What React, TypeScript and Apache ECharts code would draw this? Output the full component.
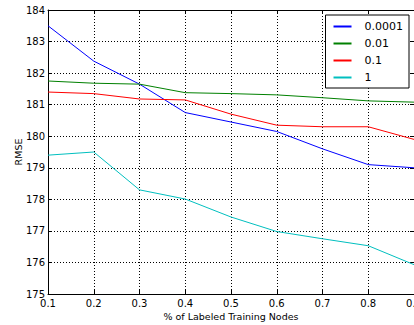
import React, { useEffect, useRef } from "react";
import * as echarts from "echarts";

const categories = ["0.1", "0.2", "0.3", "0.4", "0.5", "0.6", "0.7", "0.8", "0.9"];
const seriesNames = ["0.0001", "0.01", "0.1", "1"];
const s0001 = [183.5, 182.38, 181.65, 180.75, 180.45, 180.15, 179.6, 179.1, 179.0];
const s001 = [181.75, 181.68, 181.65, 181.38, 181.35, 181.31, 181.22, 181.12, 181.08];
const s01 = [181.4, 181.35, 181.18, 181.15, 180.7, 180.35, 180.3, 180.3, 179.9];
const s1 = [179.4, 179.5, 178.3, 178.01, 177.44, 176.98, 176.75, 176.53, 175.93];
const colors = ["#0000ff", "#008000", "#ff0000", "#00bfbf"];
const FONT = "DejaVu Sans";

export default function App() {
  const ref = useRef<HTMLDivElement>(null);
  useEffect(() => {
    if (!ref.current) return;
    const chart = echarts.init(ref.current, undefined, { renderer: "svg" });
    const values = [s0001, s001, s01, s1];
    const tickStyle = { show: true, inside: true, length: 4, lineStyle: { color: "#000", width: 1 } };
    const axisLine = { show: true, lineStyle: { color: "#000", width: 1 } };
    chart.setOption({
      animation: false,
      textStyle: { fontFamily: FONT },
      grid: { left: 48, right: 0, top: 10, bottom: 31, containLabel: false, outerBoundsMode: "none" },
      legend: {
        orient: "vertical",
        right: 5,
        top: 15,
        data: seriesNames,
        icon: "rect",
        itemWidth: 18,
        itemHeight: 2,
        itemGap: 4,
        padding: [5, 6, 4, 8],
        backgroundColor: "#fff",
        borderColor: "#000",
        borderWidth: 1,
        borderRadius: 0,
        textStyle: { fontFamily: FONT, fontSize: 11, color: "#000", lineHeight: 13, padding: [0, 0, 0, 8] },
      },
      xAxis: [
        {
          type: "category",
          data: categories,
          boundaryGap: false,
          position: "bottom",
          name: "% of Labeled Training Nodes",
          nameLocation: "middle",
          nameGap: 17,
          nameMoveOverlap: false,
          nameTextStyle: { fontFamily: FONT, fontSize: 9.5, color: "#000" },
          axisLine,
          axisTick: tickStyle,
          axisLabel: { fontFamily: FONT, fontSize: 10, color: "#000", margin: 4, interval: 0 },
          splitLine: { show: true, lineStyle: { color: "#000", width: 1, type: [1, 2] } },
        },
        {
          type: "category",
          data: categories,
          boundaryGap: false,
          position: "top",
          axisLine,
          axisTick: tickStyle,
          axisLabel: { show: false },
          splitLine: { show: false },
        },
      ],
      yAxis: [
        {
          type: "value",
          min: 175,
          max: 184,
          interval: 1,
          position: "left",
          name: "RMSE",
          nameLocation: "middle",
          nameGap: 25,
          nameMoveOverlap: false,
          nameTextStyle: { fontFamily: FONT, fontSize: 9.5, color: "#000" },
          axisLine,
          axisTick: tickStyle,
          axisLabel: { fontFamily: FONT, fontSize: 10, color: "#000", margin: 3 },
          splitLine: { show: true, lineStyle: { color: "#000", width: 1, type: [1, 2] } },
        },
        {
          type: "value",
          min: 175,
          max: 184,
          interval: 1,
          position: "right",
          axisLine,
          axisTick: tickStyle,
          axisLabel: { show: false },
          splitLine: { show: false },
        },
      ],
      series: seriesNames.map((name, i) => ({
        name,
        type: "line",
        data: values[i],
        symbol: "none",
        showSymbol: false,
        color: colors[i],
        lineStyle: { color: colors[i], width: 1 },
        itemStyle: { color: colors[i] },
        z: 3,
      })),
    });
    return () => chart.dispose();
  }, []);
  return (
    <div
      ref={ref}
      style={{ position: "fixed", left: 0, top: 0, width: 414, height: 325, background: "#fff" }}
    />
  );
}
